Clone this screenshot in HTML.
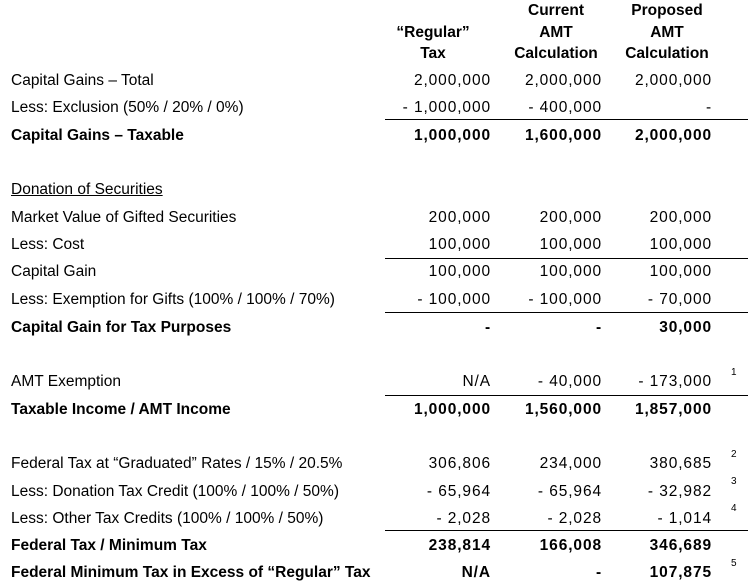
<!DOCTYPE html>
<html><head><meta charset="utf-8"><style>
body{margin:0;background:#fff;width:748px;height:583px;position:relative;overflow:hidden;font-family:"Liberation Sans",sans-serif;font-size:15.5px;color:#000}
.t{position:absolute;white-space:nowrap;line-height:20px}
.l{left:11px}
.r1,.r2,.r3{text-align:right;width:150px;letter-spacing:0.9px}
.r1{left:341px}.r2{left:452px}.r3{left:562px}
.b{font-weight:bold}
.h{text-align:center;width:140px;font-weight:bold}
.s{position:absolute;left:731px;font-size:10px}
.hr{position:absolute;left:385px;width:363px;height:1px;background:#000}
.u{text-decoration:underline}
</style></head><body>
<div class="t h" style="left:486px;top:1px">Current</div>
<div class="t h" style="left:597px;top:1px">Proposed</div>
<div class="t h" style="left:363px;top:23px">“Regular”</div>
<div class="t h" style="left:486px;top:23px">AMT</div>
<div class="t h" style="left:597px;top:23px">AMT</div>
<div class="t h" style="left:363px;top:44px">Tax</div>
<div class="t h" style="left:486px;top:44px">Calculation</div>
<div class="t h" style="left:597px;top:44px">Calculation</div>

<div class="t l" style="top:71px">Capital Gains – Total</div>
<div class="t r1" style="top:71px">2,000,000</div><div class="t r2" style="top:71px">2,000,000</div><div class="t r3" style="top:71px">2,000,000</div>
<div class="t l" style="top:98px">Less: Exclusion (50% / 20% / 0%)</div>
<div class="t r1" style="top:98px">- 1,000,000</div><div class="t r2" style="top:98px">- 400,000</div><div class="t r3" style="top:98px">-</div>
<div class="hr" style="top:119px"></div>
<div class="t l b" style="top:126px">Capital Gains – Taxable</div>
<div class="t r1 b" style="top:126px">1,000,000</div><div class="t r2 b" style="top:126px">1,600,000</div><div class="t r3 b" style="top:126px">2,000,000</div>

<div class="t l u" style="top:180px">Donation of Securities</div>
<div class="t l" style="top:208px">Market Value of Gifted Securities</div>
<div class="t r1" style="top:208px">200,000</div><div class="t r2" style="top:208px">200,000</div><div class="t r3" style="top:208px">200,000</div>
<div class="t l" style="top:235px">Less: Cost</div>
<div class="t r1" style="top:235px">100,000</div><div class="t r2" style="top:235px">100,000</div><div class="t r3" style="top:235px">100,000</div>
<div class="hr" style="top:258px"></div>
<div class="t l" style="top:262px">Capital Gain</div>
<div class="t r1" style="top:262px">100,000</div><div class="t r2" style="top:262px">100,000</div><div class="t r3" style="top:262px">100,000</div>
<div class="t l" style="top:290px">Less: Exemption for Gifts (100% / 100% / 70%)</div>
<div class="t r1" style="top:290px">- 100,000</div><div class="t r2" style="top:290px">- 100,000</div><div class="t r3" style="top:290px">- 70,000</div>
<div class="hr" style="top:312px"></div>
<div class="t l b" style="top:318px">Capital Gain for Tax Purposes</div>
<div class="t r1 b" style="top:318px">-</div><div class="t r2 b" style="top:318px">-</div><div class="t r3 b" style="top:318px">30,000</div>

<div class="t l" style="top:372px">AMT Exemption</div>
<div class="t r1" style="top:372px">N/A</div><div class="t r2" style="top:372px">- 40,000</div><div class="t r3" style="top:372px">- 173,000</div>
<div class="s" style="top:367px">1</div>
<div class="hr" style="top:395px"></div>
<div class="t l b" style="top:400px">Taxable Income / AMT Income</div>
<div class="t r1 b" style="top:400px">1,000,000</div><div class="t r2 b" style="top:400px">1,560,000</div><div class="t r3 b" style="top:400px">1,857,000</div>

<div class="t l" style="top:454px">Federal Tax at “Graduated” Rates / 15% / 20.5%</div>
<div class="t r1" style="top:454px">306,806</div><div class="t r2" style="top:454px">234,000</div><div class="t r3" style="top:454px">380,685</div>
<div class="s" style="top:449px">2</div>
<div class="t l" style="top:482px">Less: Donation Tax Credit (100% / 100% / 50%)</div>
<div class="t r1" style="top:482px">- 65,964</div><div class="t r2" style="top:482px">- 65,964</div><div class="t r3" style="top:482px">- 32,982</div>
<div class="s" style="top:476px">3</div>
<div class="t l" style="top:509px">Less: Other Tax Credits (100% / 100% / 50%)</div>
<div class="t r1" style="top:509px">- 2,028</div><div class="t r2" style="top:509px">- 2,028</div><div class="t r3" style="top:509px">- 1,014</div>
<div class="s" style="top:503px">4</div>
<div class="hr" style="top:530px"></div>
<div class="t l b" style="top:536px">Federal Tax / Minimum Tax</div>
<div class="t r1 b" style="top:536px">238,814</div><div class="t r2 b" style="top:536px">166,008</div><div class="t r3 b" style="top:536px">346,689</div>
<div class="t l b" style="top:563px">Federal Minimum Tax in Excess of “Regular” Tax</div>
<div class="t r1 b" style="top:563px">N/A</div><div class="t r2 b" style="top:563px">-</div><div class="t r3 b" style="top:563px">107,875</div>
<div class="s" style="top:558px">5</div>
</body></html>
